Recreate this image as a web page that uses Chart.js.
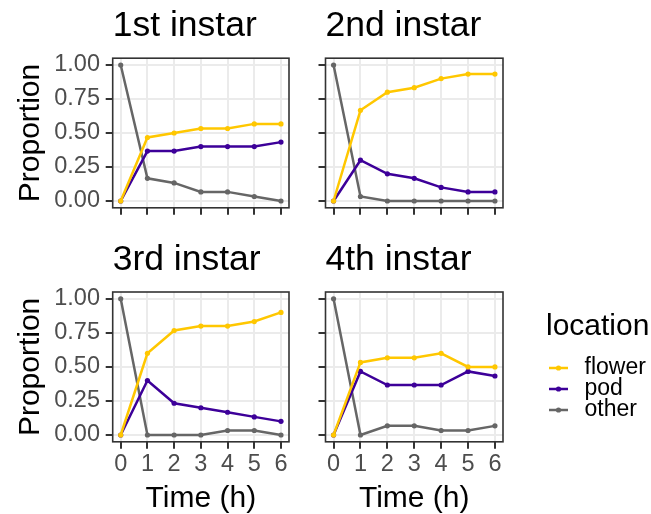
<!DOCTYPE html>
<html>
<head>
<meta charset="utf-8">
<script src="https://cdn.jsdelivr.net/npm/chart.js@4.4.1/dist/chart.umd.min.js"></script>
<style>
  body { margin: 0; background: #fff; overflow: hidden; }
  canvas.layer { position: absolute; left: 0; top: 0; }
  #legend { left: 546px; }
</style>
</head>
<body>
<canvas id="p1" class="layer" width="651" height="514"></canvas>
<canvas id="p2" class="layer" width="651" height="514"></canvas>
<canvas id="p3" class="layer" width="651" height="514"></canvas>
<canvas id="p4" class="layer" width="651" height="514"></canvas>
<canvas id="legend" class="layer" width="651" height="514"></canvas>
<script>
// x values and tick labels
const times = [0, 1, 2, 3, 4, 5, 6];
const yTicks = [0, 0.25, 0.5, 0.75, 1];
const instars = ['1st instar', '2nd instar', '3rd instar', '4th instar'];
const locations = ['flower', 'pod', 'other'];

// proportions per instar
const flower1 = [0, 0.467, 0.5, 0.533, 0.533, 0.567, 0.567];
const pod1 = [0, 0.367, 0.367, 0.4, 0.4, 0.4, 0.433];
const other1 = [1, 0.167, 0.133, 0.067, 0.067, 0.033, 0];

const flower2 = [0, 0.667, 0.8, 0.833, 0.9, 0.933, 0.933];
const pod2 = [0, 0.3, 0.2, 0.167, 0.1, 0.067, 0.067];
const other2 = [1, 0.033, 0, 0, 0, 0, 0];

const flower3 = [0, 0.6, 0.767, 0.8, 0.8, 0.833, 0.9];
const pod3 = [0, 0.4, 0.233, 0.2, 0.167, 0.133, 0.1];
const other3 = [1, 0, 0, 0, 0.033, 0.033, 0];

const flower4 = [0, 0.533, 0.567, 0.567, 0.6, 0.5, 0.5];
const pod4 = [0, 0.467, 0.367, 0.367, 0.367, 0.467, 0.433];
const other4 = [1, 0, 0.067, 0.067, 0.033, 0.033, 0.067];

const panelData = [
    [flower1, pod1, other1],
    [flower2, pod2, other2],
    [flower3, pod3, other3],
    [flower4, pod4, other4]
];

// styling
const colors = ['#FFC700', '#3D0099', '#666666'];
Chart.defaults.font.family = "'Liberation Sans', Arial, sans-serif";

// plot area of each facet in page pixels
const boxes = [
    { l: 112.7, t: 58.2, r: 289, b: 207.8, showY: true, showX: false },
    { l: 325.5, t: 58.2, r: 503, b: 207.8, showY: false, showX: false },
    { l: 112.7, t: 292, r: 289, b: 441.8, showY: true, showX: true },
    { l: 325.5, t: 292, r: 503, b: 441.8, showY: false, showX: true }
];

// ggplot style border round the panel
const panelBorder = {
    id: 'panelBorder',
    afterDraw(chart) {
        const a = chart.chartArea;
        const ctx = chart.ctx;
        ctx.save();
        ctx.strokeStyle = '#333333';
        ctx.lineWidth = 1.6;
        ctx.strokeRect(a.left, a.top, a.right - a.left, a.bottom - a.top);
        ctx.restore();
    }
};

const gridOpts = {
    color: '#EBEBEB',
    lineWidth: 2,
    tickColor: '#333333',
    tickWidth: 2,
    tickLength: 7
};

boxes.forEach((box, i) => {
    const datasets = locations.map((name, j) => ({
        label: name,
        data: times.map((t, k) => ({ x: t, y: panelData[i][j][k] })),
        borderColor: colors[j],
        backgroundColor: colors[j],
        borderWidth: 2.5,
        pointRadius: 2.6,
        pointBorderWidth: 0,
        tension: 0
    }));

    new Chart(document.getElementById('p' + (i + 1)), {
        type: 'line',
        data: { datasets: datasets },
        options: {
            responsive: false,
            animation: false,
            events: [],
            layout: { padding: { left: 0, top: box.t - 58.2, right: 651 - box.r, bottom: 0 } },
            plugins: {
                legend: { display: false },
                tooltip: { enabled: false },
                title: {
                    display: true,
                    text: instars[i],
                    align: 'start',
                    fullSize: false,
                    color: '#000000',
                    font: { size: 35.5, weight: 'normal', lineHeight: 1 },
                    padding: { top: 8.65, bottom: 14.05 }
                }
            },
            scales: {
                x: {
                    type: 'linear',
                    min: -0.3,
                    max: 6.3,
                    afterBuildTicks: s => { s.ticks = times.map(v => ({ value: v })); },
                    afterFit: s => { s.height = 514 - box.b; },
                    grid: gridOpts,
                    border: { display: false },
                    ticks: {
                        display: box.showX,
                        padding: 4.05,
                        color: '#4D4D4D',
                        maxRotation: 0,
                        font: { size: 23.5, lineHeight: 1 }
                    },
                    title: {
                        display: box.showX,
                        text: 'Time (h)',
                        color: '#000000',
                        font: { size: 30, lineHeight: 1 },
                        padding: { top: 0, bottom: 0 }
                    }
                },
                y: {
                    type: 'linear',
                    min: -0.05,
                    max: 1.05,
                    afterBuildTicks: s => { s.ticks = yTicks.map(v => ({ value: v })); },
                    afterFit: s => { s.width = box.l; },
                    grid: gridOpts,
                    border: { display: false },
                    ticks: {
                        display: box.showY,
                        padding: 5.7,
                        color: '#4D4D4D',
                        font: { size: 23.5 },
                        callback: v => Number(v).toFixed(2)
                    },
                    title: {
                        display: box.showY,
                        text: 'Proportion',
                        color: '#000000',
                        font: { size: 30, lineHeight: 1 },
                        padding: { top: 15.5, bottom: 0 }
                    }
                }
            }
        },
        plugins: [panelBorder]
    });
});

// legend key: short line with a dot, like ggplot's
function legendIcon(color) {
    const c = document.createElement('canvas');
    c.width = 19;
    c.height = 8;
    const ctx = c.getContext('2d');
    ctx.strokeStyle = color;
    ctx.lineWidth = 2.5;
    ctx.beginPath();
    ctx.moveTo(0, 4);
    ctx.lineTo(19, 4);
    ctx.stroke();
    ctx.fillStyle = color;
    ctx.beginPath();
    ctx.arc(9.5, 4, 2.6, 0, Math.PI * 2);
    ctx.fill();
    return c;
}

// legend lives on its own canvas, shifted to x = 546
new Chart(document.getElementById('legend'), {
    type: 'line',
    data: { datasets: [] },
    options: {
        responsive: false,
        animation: false,
        events: [],
        layout: { padding: { left: 0, top: 300, right: 0, bottom: 0 } },
        scales: { x: { display: false }, y: { display: false } },
        plugins: {
            tooltip: { enabled: false },
            legend: {
                position: 'left',
                align: 'start',
                title: {
                    display: true,
                    text: 'location',
                    position: 'start',
                    color: '#000000',
                    font: { size: 30, lineHeight: 1 },
                    padding: { top: 12, bottom: 16.5 }
                },
                labels: {
                    usePointStyle: true,
                    pointStyleWidth: 29,
                    padding: -2,
                    color: '#000000',
                    font: { size: 23 },
                    generateLabels: () => locations.map((name, i) => ({
                        text: name,
                        fillStyle: colors[i],
                        strokeStyle: colors[i],
                        fontColor: '#000000',
                        lineWidth: 0,
                        pointStyle: legendIcon(colors[i]),
                        hidden: false,
                        datasetIndex: i
                    }))
                }
            }
        }
    }
});
</script>
</body>
</html>
